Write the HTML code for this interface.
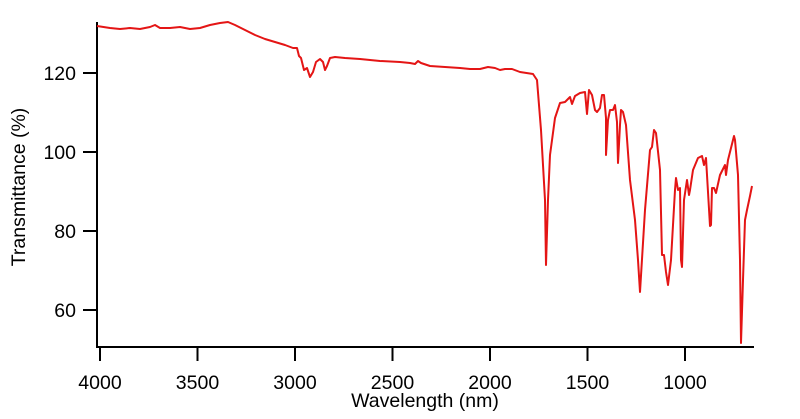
<!DOCTYPE html>
<html><head><style>
body{margin:0;background:#fff;}
svg{display:block;font-family:"Liberation Sans",Arial,sans-serif;}
</style></head><body>
<svg width="800" height="419" viewBox="0 0 800 419">
<g stroke="#000" stroke-width="2" fill="none">
<line x1="97" y1="22" x2="97" y2="348"/>
<line x1="96" y1="347" x2="754" y2="347"/>
<line x1="83" y1="73" x2="97" y2="73"/>
<line x1="83" y1="152" x2="97" y2="152"/>
<line x1="83" y1="231" x2="97" y2="231"/>
<line x1="83" y1="310" x2="97" y2="310"/>
<line x1="100" y1="347" x2="100" y2="361"/>
<line x1="197.5" y1="347" x2="197.5" y2="361"/>
<line x1="295" y1="347" x2="295" y2="361"/>
<line x1="392.5" y1="347" x2="392.5" y2="361"/>
<line x1="490" y1="347" x2="490" y2="361"/>
<line x1="587.5" y1="347" x2="587.5" y2="361"/>
<line x1="685" y1="347" x2="685" y2="361"/>
</g>
<g font-size="19.5" fill="#000" text-anchor="end">
<text x="76" y="80">120</text>
<text x="76" y="159">100</text>
<text x="76" y="238">80</text>
<text x="76" y="317">60</text>
</g>
<g font-size="19.5" fill="#000" text-anchor="middle">
<text x="100" y="389">4000</text>
<text x="197.5" y="389">3500</text>
<text x="295" y="389">3000</text>
<text x="392.5" y="389">2500</text>
<text x="490" y="389">2000</text>
<text x="587.5" y="389">1500</text>
<text x="685" y="389">1000</text>
<text x="425" y="407">Wavelength (nm)</text>
<text transform="translate(25,187) rotate(-90)">Transmittance (%)</text>
</g>
<polyline fill="none" stroke="#e41515" stroke-width="2" stroke-linejoin="round" points="
97,26 110,28 120,29 130,28 140,29 150,27 155,25 160,28 170,28 180,27 190,29 200,28 210,25 220,23 228,22 235,25 245,30 255,35 265,39 275,42 285,45 293,48 297,48 299,56 301,58 304,70 307,68 310,77 313,72 316,62 320,59 323,62 325,70 327,66 330,58 335,57 345,58 360,59 380,61 400,62 410,63 415,64 418,61 421,63 430,66 445,67 460,68 470,69 480,69 488,67 495,68 500,70 505,69 512,69 520,72 533,74 537,80 541,130 545,200 546,265 548,200 550,155 555,118 560,103 565,102 570,97 572,104 575,96 580,93 585,92 587,114 589,90 592,95 595,110 597,112 600,108 602,95 604,95 606,118 606,155 608,120 610,110 613,110 615,105 617,122 618,163 620,125 621,110 623,112 626,125 630,180 635,220 638,260 640,292 645,210 650,150 652,147 654,130 656,133 660,170 662,255 664,255 666,272 668,285 671,260 675,190 676,178 678,190 680,188 681,260 682,267 684,200 687,180 689,195 690,190 693,170 698,158 702,156 704,165 706,158 710,226 711,225 712,188 714,188 716,193 720,175 725,165 726,175 728,160 733,140 734,136 735,140 738,175 740,260 741,343 743,280 745,220 747,210 750,196 752,186"/>
</svg>
</body></html>
